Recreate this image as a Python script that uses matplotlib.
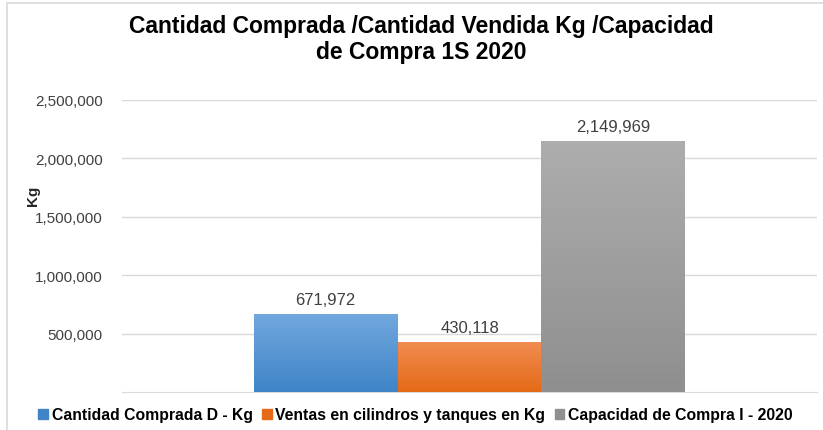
import matplotlib.pyplot as plt
import matplotlib.patches as mpatches
import numpy as np

# data
series = ['Cantidad Comprada D - Kg', 'Ventas en cilindros y tanques en Kg',
          'Capacidad de Compra I - 2020']
values = [671972, 430118, 2149969]
top_colors = ['#72A8DE', '#F18D52', '#ADADAD']
bottom_colors = ['#3F84C7', '#E46A17', '#8F8F8F']
yticks = [500000, 1000000, 1500000, 2000000, 2500000]

plt.rcParams['font.family'] = ['Liberation Sans', 'DejaVu Sans']

fig = plt.figure(figsize=(8.23, 4.31), dpi=100)

# outer chart frame (right and bottom edges fall outside the picture)
fig.patches.append(mpatches.Rectangle((7/823, -0.05), 1.0, 1.05 - 4/431,
                                      transform=fig.transFigure, fill=False,
                                      edgecolor='#D9D9D9', linewidth=1.2))

ax = fig.add_axes([122/823, 38/431, 695/823, 292/431])

w = 0.207
offsets = [-w, 0, w]

def hex2rgb(h):
    h = h.lstrip('#')
    return np.array([int(h[i:i+2], 16) / 255 for i in (0, 2, 4)])

for off, v, c1, c2 in zip(offsets, values, top_colors, bottom_colors):
    bar = ax.bar(off, v, width=w, color=c2, zorder=3)[0]
    t = np.linspace(0, 1, 64)[:, None]
    grad = (1 - t) * hex2rgb(c1) + t * hex2rgb(c2)
    im = ax.imshow(grad[:, None, :].repeat(2, axis=1), aspect='auto',
                   extent=(off - w/2, off + w/2, 0, v), zorder=4)
    im.set_clip_path(bar)
    ax.text(off, v + 60000, f'{v:,}', ha='center', va='bottom',
            fontsize=12, color='#404040', zorder=5)

ax.set_xlim(-0.5, 0.5)
ax.set_ylim(0, 2500000)
ax.set_yticks(yticks)
ax.set_yticklabels([f'{t:,}' for t in yticks], fontsize=11, color='#404040')
ax.set_xticks([])
ax.tick_params(axis='y', length=0, pad=14)
ax.grid(axis='y', color='#D9D9D9', linewidth=1, zorder=0)
ax.set_axisbelow(True)
for s in ['top', 'right', 'left']:
    ax.spines[s].set_visible(False)
ax.spines['bottom'].set_color('#D9D9D9')

fig.text(33/823, 1 - 196/431, 'Kg', rotation=90, ha='center', va='center',
         fontsize=11, fontweight='bold', color='#262626')

fig.text(421/823, 1 - 27/431, 'Cantidad Comprada /Cantidad Vendida Kg /Capacidad',
         ha='center', va='center', fontsize=16.5, fontweight='bold', color='#000000')
fig.text(421/823, 1 - 52/431, 'de Compra 1S 2020',
         ha='center', va='center', fontsize=16.5, fontweight='bold', color='#000000')

handles = [mpatches.Patch(color=c) for c in bottom_colors]
fig.legend(handles, series, loc='center', bbox_to_anchor=(0.505, 1 - 416/431),
           ncol=3, frameon=False, handlelength=0.6,
           handleheight=0.6, handletextpad=0.25, columnspacing=0.6,
           prop={'weight': 'bold', 'size': 11.3})

fig.savefig('out.png', dpi=100)
